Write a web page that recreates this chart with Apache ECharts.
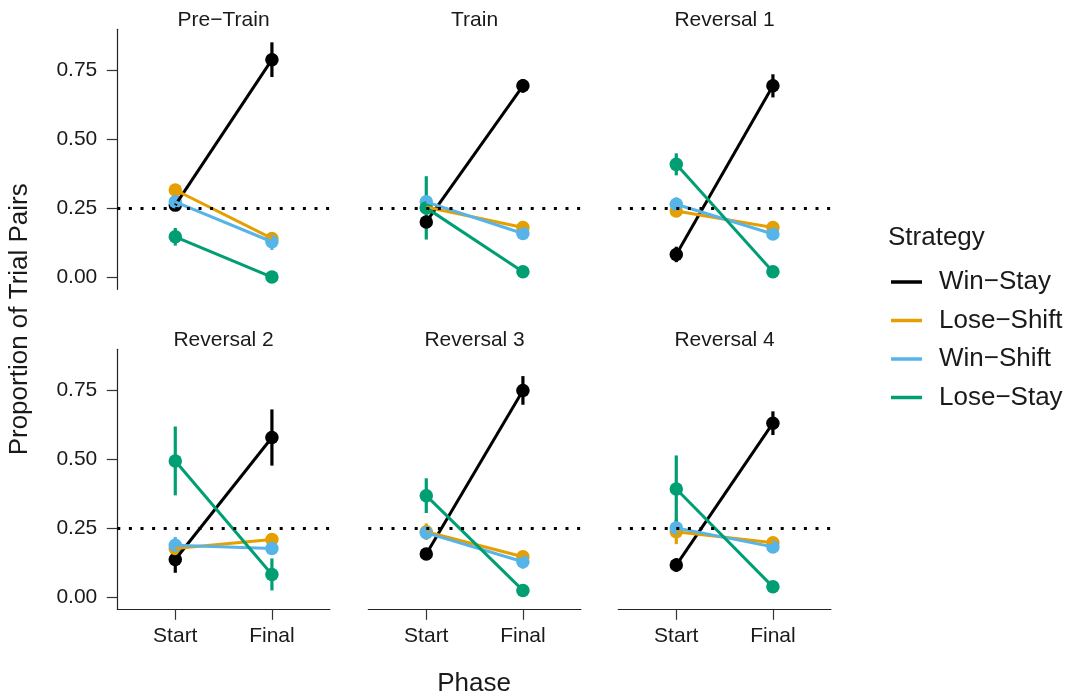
<!DOCTYPE html>
<html>
<head>
<meta charset="utf-8">
<script src="https://cdn.jsdelivr.net/npm/echarts@6/dist/echarts.min.js"></script>
<style>
  html, body { margin: 0; padding: 0; background: #fff; }
  #chart { width: 1071px; height: 698px; }
</style>
</head>
<body>
<div id="chart"></div>
<script>
// Facets, phases and strategies
const panels = ['Pre\u2212Train', 'Train', 'Reversal 1', 'Reversal 2', 'Reversal 3', 'Reversal 4'];
const phases = ['Start', 'Final'];
const strategies = ['Win\u2212Stay', 'Lose\u2212Shift', 'Win\u2212Shift', 'Lose\u2212Stay'];
const yTicks = [0, 0.25, 0.5, 0.75];
const chanceLevel = 0.25;

// Mean proportion of trial pairs per facet: [Start, Final]
const winStay   = [[0.262, 0.790], [0.201, 0.695], [0.083, 0.695], [0.137, 0.580], [0.157, 0.751], [0.117, 0.632]];
const loseShift = [[0.317, 0.141], [0.255, 0.181], [0.241, 0.181], [0.177, 0.210], [0.238, 0.147], [0.238, 0.198]];
const winShift  = [[0.274, 0.129], [0.274, 0.159], [0.265, 0.157], [0.189, 0.177], [0.234, 0.129], [0.252, 0.183]];
const loseStay  = [[0.147, 0.001], [0.252, 0.020], [0.410, 0.020], [0.495, 0.083], [0.369, 0.025], [0.393, 0.038]];

// Error bar half-widths per facet: [Start, Final]
const winStayErr   = [[0.015, 0.063], [0.020, 0.025], [0.028, 0.042], [0.048, 0.102], [0.015, 0.052], [0.025, 0.043]];
const loseShiftErr = [[0.010, 0.020], [0.020, 0.015], [0.015, 0.010], [0.020, 0.020], [0.030, 0.015], [0.045, 0.015]];
const winShiftErr  = [[0.015, 0.030], [0.020, 0.015], [0.025, 0.015], [0.030, 0.020], [0.020, 0.025], [0.030, 0.015]];
const loseStayErr  = [[0.032, 0.003], [0.115, 0.010], [0.040, 0.010], [0.125, 0.058], [0.063, 0.010], [0.122, 0.010]];

const means = [winStay, loseShift, winShift, loseStay];
const errs = [winStayErr, loseShiftErr, winShiftErr, loseStayErr];
const colors = ['#000000', '#E69F00', '#56B4E9', '#009E73'];

const FONT = '"Liberation Sans", Arial, Helvetica, sans-serif';
const TXT = '#1a1a1a';

// Panel geometry
const colLeft = [117.3, 368.3, 618.3];
const rowTop = [29.3, 349.3];
const panelW = 212.6;
const panelH = 260;
const yMin = -0.0436, yMax = 0.9003;

const grids = [], xAxes = [], yAxes = [], series = [], graphics = [];

panels.forEach((name, p) => {
  const r = Math.floor(p / 3), c = p % 3;
  const isBottom = r === 1, isLeft = c === 0;
  grids.push({ left: colLeft[c], top: rowTop[r], width: panelW, height: panelH, containLabel: false });
  xAxes.push({
    gridIndex: p, type: 'value', min: 0.4, max: 2.6, show: isBottom,
    axisLine: { show: true, onZero: false, lineStyle: { color: '#222', width: 1.2 } },
    axisTick: { show: true, customValues: [1, 2], length: 10.5, lineStyle: { color: '#333', width: 1.2 } },
    axisLabel: {
      show: true, customValues: [1, 2], margin: 16,
      formatter: v => phases[Math.round(v) - 1],
      fontSize: 21, fontFamily: FONT, color: TXT
    },
    splitLine: { show: false }
  });
  yAxes.push({
    gridIndex: p, type: 'value', min: yMin, max: yMax, show: isLeft,
    axisLine: { show: true, onZero: false, lineStyle: { color: '#222', width: 1.2 } },
    axisTick: { show: true, customValues: yTicks, length: 10.5, lineStyle: { color: '#333', width: 1.2 } },
    axisLabel: {
      show: true, customValues: yTicks, margin: 20,
      formatter: v => v.toFixed(2),
      fontSize: 21, fontFamily: FONT, color: TXT
    },
    splitLine: { show: false }
  });

  // facet title
  graphics.push({
    type: 'text', x: colLeft[c] + panelW / 2, y: rowTop[r] - 9.5,
    style: { text: name, font: `21px ${FONT}`, fill: TXT, textAlign: 'center', textVerticalAlign: 'middle' }
  });

  strategies.forEach((s, k) => {
    const m = means[k][p], e = errs[k][p], col = colors[k];
    // error bars
    series.push({
      type: 'custom', name: s, xAxisIndex: p, yAxisIndex: p, z: 2,
      data: m.map((v, i) => [i + 1, v - e[i], v + e[i]]),
      encode: { x: 0, y: [1, 2] },
      renderItem: (params, api) => {
        const x = api.value(0);
        const a = api.coord([x, api.value(1)]);
        const b = api.coord([x, api.value(2)]);
        return { type: 'line', shape: { x1: a[0], y1: a[1], x2: b[0], y2: b[1] }, style: { stroke: col, lineWidth: 3.2 } };
      },
      markLine: k === 0 ? {
        silent: true, symbol: ['none', 'none'], label: { show: false },
        lineStyle: { color: '#000', width: 3, type: [3, 8.6], cap: 'butt' },
        data: [{ yAxis: chanceLevel }]
      } : undefined
    });
    // points
    series.push({
      type: 'scatter', name: s, xAxisIndex: p, yAxisIndex: p, z: 3,
      symbol: 'circle', symbolSize: 13.5,
      itemStyle: { color: col, opacity: 1 },
      data: m.map((v, i) => [i + 1, v])
    });
    // connecting lines
    series.push({
      type: 'line', name: s, xAxisIndex: p, yAxisIndex: p, z: 4,
      showSymbol: false, symbol: 'none',
      lineStyle: { color: col, width: 3 },
      data: m.map((v, i) => [i + 1, v])
    });
  });
});

// axis titles
graphics.push({
  type: 'text', x: (colLeft[0] + colLeft[2] + panelW) / 2, y: 684,
  style: { text: 'Phase', font: `26px ${FONT}`, fill: TXT, textAlign: 'center', textVerticalAlign: 'middle' }
});
graphics.push({
  type: 'text', x: 20, y: (rowTop[0] + rowTop[1] + panelH) / 2, rotation: Math.PI / 2,
  style: { text: 'Proportion of Trial Pairs', font: `26px ${FONT}`, fill: TXT, textAlign: 'center', textVerticalAlign: 'middle' }
});

// legend
graphics.push({
  type: 'text', x: 888, y: 237.5,
  style: { text: 'Strategy', font: `26px ${FONT}`, fill: TXT, textAlign: 'left', textVerticalAlign: 'middle' }
});
strategies.forEach((s, k) => {
  const y = 282 + k * 38.5;
  graphics.push({ type: 'line', shape: { x1: 891, y1: y, x2: 922, y2: y }, style: { stroke: colors[k], lineWidth: 3.5 } });
  graphics.push({
    type: 'text', x: 939, y: y,
    style: { text: s, font: `26px ${FONT}`, fill: TXT, textAlign: 'left', textVerticalAlign: 'middle' }
  });
});

const chart = echarts.init(document.getElementById('chart'), null, { renderer: 'canvas' });
chart.setOption({
  backgroundColor: '#ffffff',
  animation: false,
  grid: grids,
  xAxis: xAxes,
  yAxis: yAxes,
  series: series,
  graphic: graphics
});
</script>
</body>
</html>
